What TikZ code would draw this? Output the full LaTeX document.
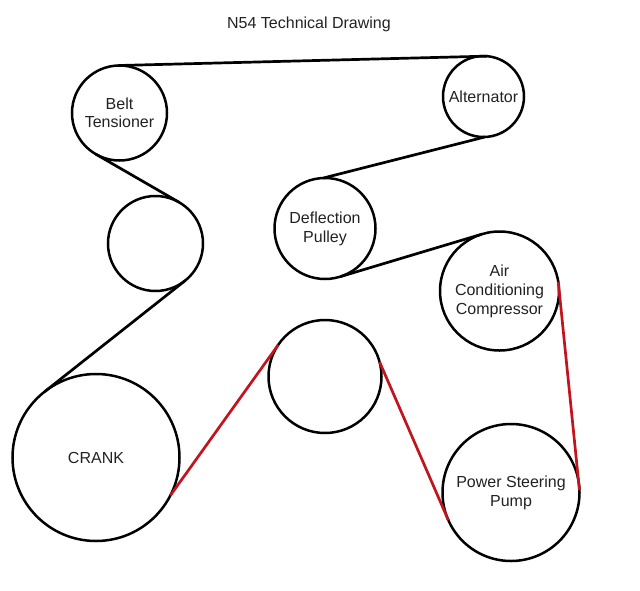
\documentclass[tikz,border=0pt]{standalone}
\usepackage{fontspec}
\setmainfont{Liberation Sans}
\definecolor{belt}{HTML}{C2141E}
\definecolor{ink}{HTML}{222222}
\tikzset{
  pulley/.style={draw=black,circle,line width=2.5pt,inner sep=0pt,outer sep=0pt,
    minimum size=#1,align=center,text=ink,font=\fontsize{16}{19}\selectfont},
  blackbelt/.style={draw=black,line width=2.7pt},
  redbelt/.style={draw=belt,line width=2.7pt},
  heading/.style={text=ink,inner sep=0pt,font=\fontsize{16}{19}\selectfont}
}
\begin{document}
\begin{tikzpicture}[x=1pt,y=-1pt]
\useasboundingbox (0,0) rectangle (640,590);
\node[heading] (title) at (309,24) {N54 Technical Drawing};
\node[pulley=95pt] (tensioner) at (119.5,113) {Belt\\[-1pt]Tensioner};
\node[pulley=95pt] (idler) at (155.5,243.5) {};
\node[pulley=101pt] (deflection) at (325,228.5) {Deflection\\Pulley};
\node[pulley=81pt] (alternator) at (483.5,96.5) {Alternator};
\node[pulley=119pt] (ac) at (499.5,291) {Air\\Conditioning\\Compressor};
\node[pulley=167pt] (crank) at (96,457.5) {CRANK};
\node[pulley=113pt] (middle) at (325,376.5) {};
\node[pulley=137pt] (steering) at (511,492.5) {Power Steering\\Pump};
\draw[blackbelt] (tensioner.92) -- (alternator.85);
\draw[blackbelt] (tensioner.-120) -- (idler.60);
\draw[blackbelt] (idler.-51.7) -- (crank.128.3);
\draw[blackbelt] (alternator.-88) -- (deflection.92);
\draw[blackbelt] (deflection.-72.6) -- (ac.107.4);
\draw[redbelt] (crank.-27.5) -- (middle.146.7);
\draw[redbelt] (middle.15.2) -- (steering.-156.4);
\draw[redbelt] (ac.9) -- (steering.2);
\end{tikzpicture}
\end{document}
